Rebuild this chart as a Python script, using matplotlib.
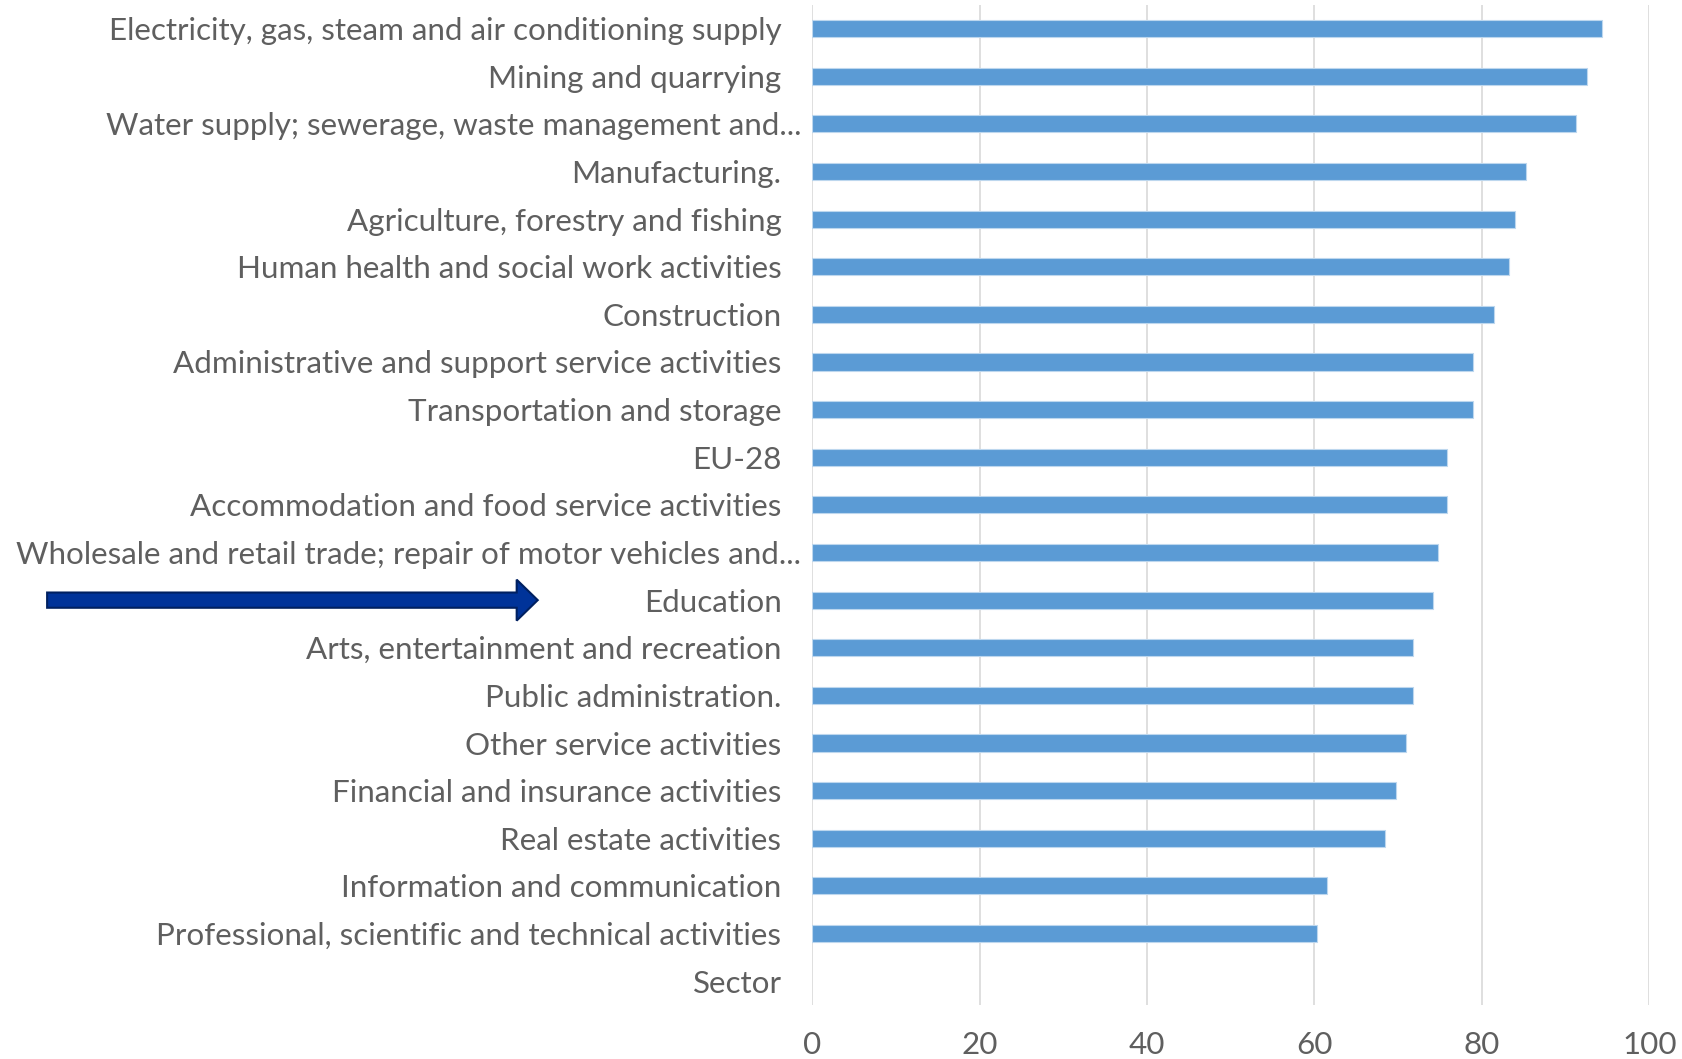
import matplotlib
matplotlib.use("Agg")
from matplotlib import pyplot as plt
from matplotlib.patches import FancyArrow
import matplotlib.transforms as mtransforms
import numpy as np

plt.rcParams['font.family'] = ['Lato', 'DejaVu Sans']

# sectors, top to bottom ("Sector" row has no value)
sectors = [
    "Electricity, gas, steam and air conditioning supply",
    "Mining and quarrying",
    "Water supply; sewerage, waste management and...",
    "Manufacturing.",
    "Agriculture, forestry and fishing",
    "Human health and social work activities",
    "Construction",
    "Administrative and support service activities",
    "Transportation and storage",
    "EU-28",
    "Accommodation and food service activities",
    "Wholesale and retail trade; repair of motor vehicles and...",
    "Education",
    "Arts, entertainment and recreation",
    "Public administration.",
    "Other service activities",
    "Financial and insurance activities",
    "Real estate activities",
    "Information and communication",
    "Professional, scientific and technical activities",
    "Sector",
]
values = [94.3, 92.6, 91.3, 85.3, 84.0, 83.2, 81.5, 78.9, 78.9, 75.8,
          75.8, 74.8, 74.2, 71.8, 71.8, 70.9, 69.7, 68.4, 61.5, 60.3]
xticks = [0, 20, 40, 60, 80, 100]
highlight = "Education"

txt = '#5f5f5f'
fig = plt.figure(figsize=(16.83, 10.59), dpi=100)
ax = fig.add_axes([0.4825, 0.051, 0.4975, 0.9445])

pos = np.arange(len(sectors))
ax.barh(pos[:len(values)], values, height=0.36, color='#5B9BD5',
        edgecolor='#BDD7EE', linewidth=0.8, zorder=3)

ax.set_ylim(len(sectors) - 0.5, -0.5)
ax.set_xlim(0, 100)
ax.set_xticks(xticks)
ax.set_yticks(pos)
ax.set_yticklabels(sectors)
ax.tick_params(axis='y', length=0, pad=22, labelsize=22.6, labelcolor=txt)
ax.tick_params(axis='x', length=0, pad=19, labelsize=22.6, labelcolor=txt)
ax.grid(axis='x', color='#D9D9D9', linewidth=1.2, zorder=0)
for s in ax.spines.values():
    s.set_visible(False)

# truncated labels sit a bit closer to the axis
for lab in ax.get_yticklabels():
    if lab.get_text().endswith("..."):
        lab.set_transform(lab.get_transform() +
                          mtransforms.ScaledTranslation(0.2, 0, fig.dpi_scale_trans))

# arrow pointing at Education
yi = sectors.index(highlight)
tr = mtransforms.blended_transform_factory(fig.transFigure, ax.transData)
arr = FancyArrow(0.028, yi, 0.279, 0, width=0.32, head_width=0.86,
                 head_length=0.0125, length_includes_head=False,
                 transform=tr, facecolor='#003399', edgecolor='#002060',
                 linewidth=1.5, clip_on=False)
fig.add_artist(arr)

plt.savefig('out.png', dpi=100)
